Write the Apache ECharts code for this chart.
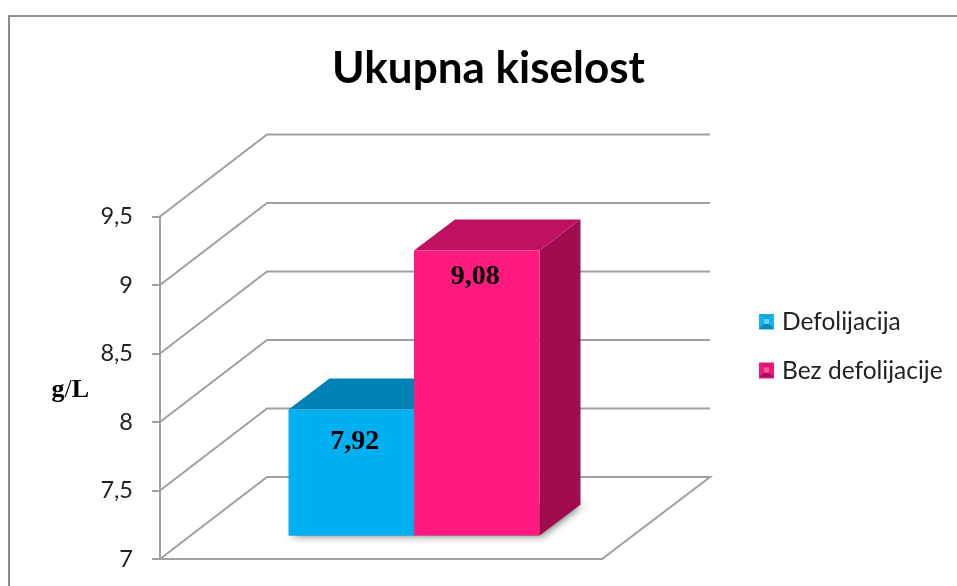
<!DOCTYPE html>
<html>
<head>
<meta charset="utf-8">
<title>Ukupna kiselost</title>
<style>
    html, body {margin: 0; padding: 0; background: #fff;}
    #chart {width: 957px; height: 586px;}
</style>
<script src="https://cdn.jsdelivr.net/npm/echarts@6/dist/echarts.min.js"></script>
</head>
<body>
<div id="chart"></div>
<script>
var categories = ['Ukupna kiselost'];
var seriesNames = ['Defolijacija', 'Bez defolijacije'];
var defolijacija = [7.92];
var bezDefolijacije = [9.08];
var yTicks = [7, 7.5, 8, 8.5, 9, 9.5];

// pomak zadnjeg zida u odnosu na prednju ravninu
var wallDx = 107, wallDy = -82;
var barW = 125.5;
// pomak stupca od prednjeg ruba poda, i dubina stupca
var barDx = 33, barDy = -23.5, depthDx = 41, depthDy = -31;
var gridColor = '#a0a0a0';

function comma(v) {
    return String(v).replace('.', ',');
}

// mreza: prednja tocka -> zadnji zid -> desni kraj
function renderGrid(params, api) {
    var sys = params.coordSys;
    var v = api.value(0);
    var y = api.coord([0, v])[1];
    var x0 = sys.x, x1 = sys.x + sys.width;
    var pts = [[x0, y], [x0 + wallDx, y + wallDy], [x1 + wallDx + 1, y + wallDy]];
    if (v === yTicks[0]) {
        pts.push([x1, y], [x0, y]);
    }
    return {
        type : 'polyline',
        shape: {points: pts},
        style: {stroke: gridColor, lineWidth: 2, fill: null}
    };
}

function makeBar(index, colors, labelDx, labelDy) {
    return function (params, api) {
        var p = api.coord([api.value(0), api.value(1)]);
        var base = api.coord([api.value(0), yTicks[0]]);
        var left = p[0] + barDx + (index - 1) * barW;
        var right = left + barW;
        var yTop = p[1] + barDy;
        var yBot = base[1] + barDy;
        return {
            type    : 'group',
            children: [
                {   // sjena na podu
                    type : 'polygon',
                    shape: {points: [[left, yBot], [right, yBot], [right + depthDx, yBot + depthDy], [left + depthDx, yBot + depthDy]]},
                    style: {fill: '#777', shadowBlur: 8, shadowColor: 'rgba(60,60,60,0.8)', shadowOffsetX: 2}
                },
                {
                    type : 'polygon',
                    shape: {points: [[right, yTop], [right + depthDx, yTop + depthDy], [right + depthDx, yBot + depthDy], [right, yBot]]},
                    style: {fill: colors.side}
                },
                {
                    type : 'polygon',
                    shape: {points: [[left, yTop], [left + depthDx, yTop + depthDy], [right + depthDx, yTop + depthDy], [right, yTop]]},
                    style: {fill: colors.top}
                },
                {
                    type : 'rect',
                    shape: {x: left, y: yTop, width: barW, height: yBot - yTop},
                    style: {fill: colors.front}
                },
                {
                    type : 'text',
                    style: {
                        x            : left + barW / 2 + labelDx,
                        y            : yTop + labelDy,
                        text         : comma(api.value(1)),
                        fill         : '#000',
                        font         : 'bold 28px "Liberation Serif"',
                        align        : 'center',
                        verticalAlign: 'middle'
                    }
                }
            ]
        };
    };
}

// ikona legende: mala piramida
function bevel(x, y, size, c) {
    var b = 5;
    var r = x + size, d = y + size;
    return [
        {type: 'polygon', z: 50, shape: {points: [[x, y], [r, y], [r - b, y + b], [x + b, y + b]]}, style: {fill: c.top}},
        {type: 'polygon', z: 50, shape: {points: [[x, y], [x + b, y + b], [x + b, d - b], [x, d]]}, style: {fill: c.side}},
        {type: 'polygon', z: 50, shape: {points: [[r, y], [r - b, y + b], [r - b, d - b], [r, d]]}, style: {fill: c.side}},
        {type: 'polygon', z: 50, shape: {points: [[x, d], [r, d], [r - b, d - b], [x + b, d - b]]}, style: {fill: c.bottom}},
        {type: 'rect', z: 50, shape: {x: x + b, y: y + b, width: size - 2 * b, height: size - 2 * b}, style: {fill: c.mid}}
    ];
}

var chart = echarts.init(document.getElementById('chart'));
var option = {
    animation: false,
    backgroundColor: '#fff',
    title  : {
        text     : 'Ukupna kiselost',
        left     : 483.5,
        top      : 42,
        textAlign: 'center',
        textStyle: {fontFamily: 'Lato', fontWeight: 'bold', fontSize: 44, color: '#000'}
    },
    legend : {
        orient    : 'vertical',
        left      : 759,
        top       : 309.5,
        padding   : 0,
        icon      : 'rect',
        itemWidth : 15,
        itemHeight: 15,
        itemGap   : 24,
        data      : seriesNames,
        textStyle : {fontFamily: 'Lato', fontSize: 24.5, color: '#222', padding: [1, 0, 0, 3]}
    },
    grid   : {left: 160, top: 216.5, width: 442, height: 342.5},
    xAxis  : {
        type: 'category',
        data: categories,
        show: false
    },
    yAxis  : {
        type         : 'value',
        min          : 7,
        max          : 9.5,
        interval     : 0.5,
        name         : '{b|g}{n|/}{b|L}',
        nameLocation : 'middle',
        nameRotate   : 0,
        nameGap      : 71,
        nameTextStyle: {
            padding: [5, 0, 0, 0],
            rich   : {
                b: {fontFamily: 'Liberation Serif', fontWeight: 'bold', fontSize: 26, color: '#000'},
                n: {fontFamily: 'Liberation Serif', fontSize: 26, color: '#000'}
            }
        },
        axisLine : {show: true, lineStyle: {color: gridColor, width: 2}},
        axisTick : {show: true, length: 8, lineStyle: {color: gridColor, width: 2}},
        splitLine: {show: false},
        axisLabel: {
            margin    : 27,
            fontFamily: 'Lato',
            fontSize  : 23.5,
            color     : '#222',
            formatter : comma
        }
    },
    series : [
        {
            name            : 'mreza',
            type            : 'custom',
            coordinateSystem: 'cartesian2d',
            silent          : true,
            clip            : false,
            z               : 1,
            encode          : {y: 0},
            data            : yTicks.map(function (t) { return [t]; }),
            renderItem      : renderGrid
        },
        {
            name            : seriesNames[0],
            type            : 'custom',
            coordinateSystem: 'cartesian2d',
            clip            : false,
            z               : 2,
            encode          : {x: 0, y: 1},
            itemStyle       : {color: '#00b0f0'},
            data            : defolijacija.map(function (v, i) { return [i, v]; }),
            renderItem      : makeBar(0, {front: '#00b0f0', top: '#0083b4', side: '#006d96'}, 3.5, 32)
        },
        {
            name            : seriesNames[1],
            type            : 'custom',
            coordinateSystem: 'cartesian2d',
            clip            : false,
            z               : 3,
            encode          : {x: 0, y: 1},
            itemStyle       : {color: '#ff1a80'},
            data            : bezDefolijacije.map(function (v, i) { return [i, v]; }),
            renderItem      : makeBar(1, {front: '#ff1a80', top: '#bf1160', side: '#9f0d4e'}, -1.5, 26)
        }
    ],
    graphic: [
        {
            type : 'polyline',
            z    : 0,
            shape: {points: [[9, 586], [9, 16], [957, 16]]},
            style: {stroke: '#8c8c8c', lineWidth: 2, fill: null}
        }
    ].concat(
        bevel(759, 314, 15, {top: '#10a8de', side: '#14b4e8', bottom: '#0a86b4', mid: '#5fd4f6'}),
        bevel(759, 362.5, 15, {top: '#e01472', side: '#ec1a7c', bottom: '#a80f54', mid: '#f9589f'})
    )
};
chart.setOption(option);
</script>
</body>
</html>
